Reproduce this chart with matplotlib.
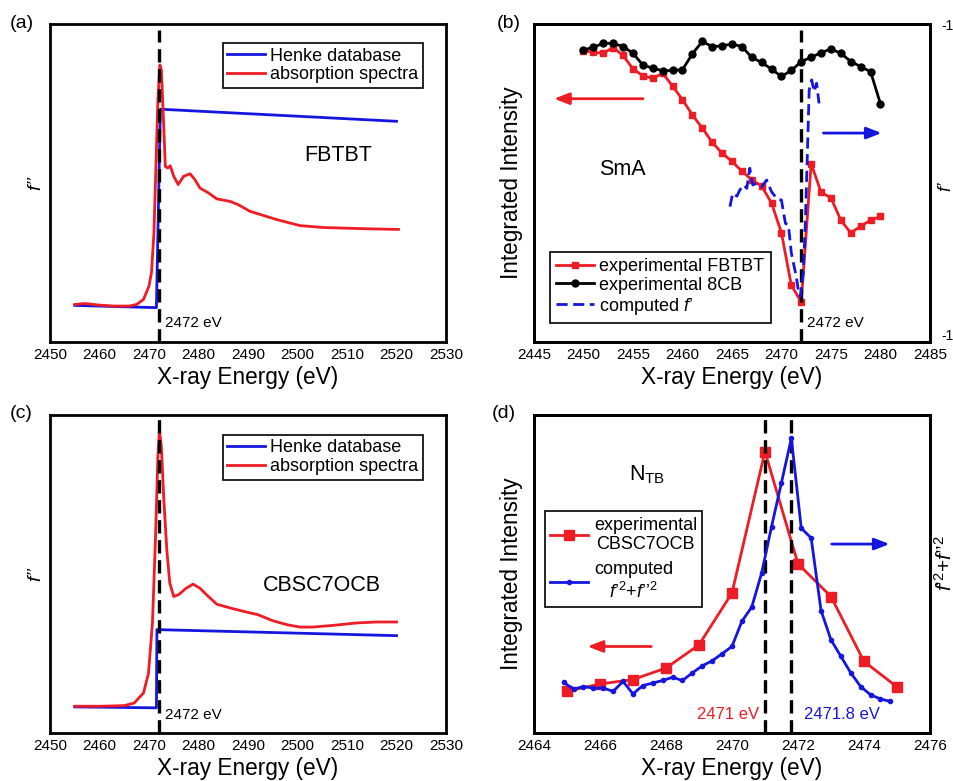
import numpy as np
import matplotlib
matplotlib.use('Agg')
import matplotlib.pyplot as plt

plt.rcParams['font.family'] = ['Liberation Sans', 'DejaVu Sans']
plt.rcParams['mathtext.fontset'] = 'custom'
plt.rcParams['mathtext.rm'] = 'Liberation Sans'
plt.rcParams['mathtext.it'] = 'Liberation Sans:italic'
plt.rcParams['axes.unicode_minus'] = False

RED = '#ee1c24'
BLUE = '#1515e0'

# ---- panel (a): FBTBT f'' (arbitrary units) ----
a_abs_x = [2455, 2457, 2460, 2463, 2466, 2467.5, 2468.9, 2470, 2470.5, 2471, 2471.4, 2471.8,
           2472.2, 2472.5, 2472.9, 2473.3, 2473.8, 2474.3, 2475, 2475.9, 2477, 2478.3, 2479.3,
           2480.3, 2482, 2483.7, 2486.4, 2488, 2490.4, 2495.8, 2500.5, 2505.2, 2514, 2520.4]
a_abs_y = [11.8, 12.1, 11.6, 11.3, 11.3, 11.8, 13.4, 17.6, 21.8, 34.3, 55.2, 76.2,
           87.1, 85.6, 70.9, 55.2, 54.7, 55.4, 52.1, 49.5, 52.1, 52.9, 51.0,
           48.4, 46.9, 45.0, 44.2, 43.2, 41.1, 38.5, 36.6, 36.0, 35.6, 35.4]
a_henke_x = [2455, 2471.5, 2472.3, 2520]
a_henke_y = [11.5, 10.8, 73.2, 69.4]

# ---- panel (b): SmA ----
b_x = list(range(2450, 2481))
b_fbtbt = [91.6, 91.1, 90.8, 92.6, 90.1, 85.9, 83.7, 82.9, 84.5, 80.5, 76.2, 71.4, 67.3, 62.8,
           59.4, 56.8, 53.7, 51.0, 49.0, 43.7, 34.3, 17.8, 12.6, 56.1, 47.1, 45.3, 38.3, 34.3,
           36.4, 38.3, 39.5]
b_8cb = [91.8, 92.7, 93.9, 93.9, 92.9, 90.8, 87.1, 86.1, 85.3, 85.4, 85.6, 90.6, 94.5, 92.9,
         93.1, 93.7, 92.9, 89.5, 87.9, 85.8, 83.5, 85.4, 88.2, 89.5, 91.0, 92.1, 90.8, 88.2,
         86.6, 85.0, 74.9]
b_fp_x = [2464.8, 2465.07, 2465.5, 2465.8, 2466.2, 2466.5, 2466.8, 2467.1, 2467.5, 2468.0,
          2468.5, 2469.0, 2469.5, 2470.0, 2470.4, 2470.7, 2471.0, 2471.5, 2471.7, 2471.9,
          2472.2, 2472.4, 2472.6, 2472.8, 2473.05, 2473.3, 2473.55, 2473.8]
b_fp_y = [-6.86, -6.43, -6.52, -6.32, -6.16, -6.27, -5.62, -6.16, -6.11, -6.22,
          -6.00, -6.38, -6.59, -6.65, -7.40, -7.45, -8.36, -9.12, -9.55, -9.76,
          -9.01, -7.51, -5.35, -3.10, -2.77, -3.15, -2.88, -3.53]

# ---- panel (c): CBSC7OCB f'' ----
c_abs_x = [2455, 2460, 2465, 2467, 2468.9, 2469.9, 2470.7, 2471.3, 2471.8, 2472.1, 2472.5,
           2473, 2473.6, 2474.2, 2475, 2476, 2477.5, 2478.9, 2480.3, 2482, 2483.7, 2486.4,
           2490, 2492, 2495, 2498, 2500.5, 2503, 2507, 2512, 2516, 2520]
c_abs_y = [8.4, 8.4, 8.6, 9.4, 12.6, 18.8, 34.6, 60.7, 86.9, 95.3, 90.1,
           73.3, 57.6, 47.1, 42.9, 43.5, 45.5, 46.8, 45.5, 42.9, 40.5, 39.3,
           37.9, 37.2, 35.3, 34.0, 33.3, 33.3, 33.8, 34.6, 34.9, 34.9]
c_henke_x = [2455, 2471.5, 2471.6, 2520]
c_henke_y = [8.2, 7.9, 32.5, 30.6]

# ---- panel (d): NTB ----
d_exp_x = list(range(2465, 2476))
d_exp_y = [13.1, 15.4, 16.8, 20.4, 27.7, 44.0, 88.5, 53.2, 42.9, 22.5, 14.5]
d_comp_x = [2464.9, 2465.2, 2465.5, 2465.8, 2466.1, 2466.4, 2466.7, 2467.0, 2467.3, 2467.6,
            2467.9, 2468.2, 2468.5, 2468.8, 2469.1, 2469.4, 2469.7, 2470.0, 2470.3, 2470.6,
            2470.9, 2471.2, 2471.5, 2471.8, 2472.1, 2472.4, 2472.7, 2473.0, 2473.3, 2473.6,
            2473.9, 2474.2, 2474.5, 2474.8]
d_comp_y = [15.9, 13.8, 14.6, 14.1, 14.1, 13.1, 16.2, 12.3, 14.9, 15.7,
            16.5, 17.5, 16.5, 18.9, 21.1, 22.7, 24.9, 27.2, 35.1, 39.6,
            50.3, 64.9, 78.7, 92.7, 64.4, 61.3, 38.5, 29.3, 24.1, 18.9,
            14.6, 12.0, 10.7, 9.9]

fig = plt.figure(figsize=(9.54, 7.81), dpi=100)
axa = fig.add_axes([0.0524, 0.5621, 0.4151, 0.4072])
axb = fig.add_axes([0.5597, 0.5621, 0.4151, 0.4072])
axc = fig.add_axes([0.0524, 0.0615, 0.4151, 0.4072])
axd = fig.add_axes([0.5597, 0.0615, 0.4151, 0.4072])

FSUM = r'$f’^{2}$+$f’’^{2}$'
DASH = (0, (4, 2))


def style(ax, xlim, step):
    ax.set_xlim(*xlim)
    ax.set_ylim(0, 100)
    ax.set_xticks(np.arange(xlim[0], xlim[1] + 0.1, step))
    ax.set_yticks([])
    ax.tick_params(axis='x', length=0, pad=4, labelsize=11)
    for s in ax.spines.values():
        s.set_linewidth(2)
    ax.set_xlabel('X-ray Energy (eV)', fontsize=16.3, labelpad=3)


def arrow(ax, x0, x1, y, color):
    ax.annotate('', xy=(x1, y), xytext=(x0, y),
                arrowprops=dict(arrowstyle='-|>,head_length=0.9,head_width=0.35',
                                color=color, lw=2))


leg_kw = dict(fontsize=13, frameon=True, fancybox=False, edgecolor='black',
              framealpha=1, borderaxespad=0, handletextpad=0.3, labelspacing=0.1,
              handlelength=2.1)

# (a)
axa.plot(a_henke_x, a_henke_y, color=BLUE, lw=2, label='Henke database')
axa.plot(a_abs_x, a_abs_y, color=RED, lw=2, label='absorption spectra')
axa.axvline(2472, color='black', ls=DASH, lw=2.4, ymax=0.98)
axa.text(2473.3, 6.1, '2472 eV', fontsize=11, va='center')
axa.text(2508.3, 58.7, 'FBTBT', fontsize=15.5, ha='center', va='center')
style(axa, (2450, 2530), 10)
axa.legend(loc='upper right', bbox_to_anchor=(0.942, 0.94),
           borderpad=0.25, **leg_kw).get_frame().set_linewidth(1.2)
axa.set_ylabel('f’’', fontsize=14, style='italic', labelpad=4)

# (c)
axc.plot(c_henke_x, c_henke_y, color=BLUE, lw=2, label='Henke database')
axc.plot(c_abs_x, c_abs_y, color=RED, lw=2, label='absorption spectra')
axc.axvline(2472, color='black', ls=DASH, lw=2.4)
axc.text(2473.3, 5.8, '2472 eV', fontsize=11, va='center')
axc.text(2505, 46.3, 'CBSC7OCB', fontsize=15.5, ha='center', va='center')
style(axc, (2450, 2530), 10)
axc.legend(loc='upper right', bbox_to_anchor=(0.942, 0.937),
           borderpad=0.25, **leg_kw).get_frame().set_linewidth(1.2)
axc.set_ylabel('f’’', fontsize=14, style='italic', labelpad=4)

# (b)
axb2 = axb.twinx()
hb1, = axb.plot(b_x, b_fbtbt, color=RED, lw=2, marker='s', ms=5, label='experimental FBTBT')
hb2, = axb.plot(b_x, b_8cb, color='black', lw=2, marker='o', ms=5, label='experimental 8CB')
hb3, = axb2.plot(b_fp_x, b_fp_y, color=BLUE, lw=2, ls=DASH, label=r'computed $f$’')
axb2.set_ylim(-11.226, -0.968)
axb2.set_yticks([-1, -11])
axb2.tick_params(axis='y', length=0, pad=8, labelsize=10)
axb.axvline(2472, color='black', ls=DASH, lw=2.4, ymax=0.98)
axb.text(2472.6, 6.1, '2472 eV', fontsize=11, va='center')
axb.text(2453.9, 54.2, 'SmA', fontsize=15.5, ha='center', va='center')
arrow(axb, 2456.3, 2446.75, 76.5, RED)
arrow(axb, 2473.96, 2480.4, 65.7, BLUE)
style(axb, (2445, 2485), 5)
for s in axb2.spines.values():
    s.set_linewidth(2)
axb.set_ylabel('Integrated Intensity', fontsize=16.3, labelpad=8)
axb.legend(handles=[hb1, hb2, hb3], loc='lower left', bbox_to_anchor=(0.04, 0.06),
           borderpad=0.35, **leg_kw).get_frame().set_linewidth(1.2)
axb.text(1.02, 0.49, 'f’', transform=axb.transAxes, fontsize=13, style='italic',
         rotation=90, ha='left', va='center')

# (d)
axd2 = axd.twinx()
hd1, = axd.plot(d_exp_x, d_exp_y, color=RED, lw=2, marker='s', ms=7,
                label='experimental\nCBSC7OCB')
hd2, = axd2.plot(d_comp_x, d_comp_y, color=BLUE, lw=2, marker='o', ms=3,
                 label='computed\n' + FSUM)
axd2.set_ylim(0, 100)
axd2.set_yticks([])
for s in axd2.spines.values():
    s.set_linewidth(2)
axd.axvline(2471, color='black', ls=DASH, lw=2.4)
axd.axvline(2471.8, color='black', ls=DASH, lw=2.4)
axd.text(2470.82, 5.8, '2471 eV', fontsize=12, color=RED, ha='right', va='center')
axd.text(2472.18, 5.8, '2471.8 eV', fontsize=12, color=BLUE, ha='left', va='center')
axd.text(2467.44, 81.2, r'N$_{\mathregular{TB}}$', fontsize=15.5, ha='center', va='center')
arrow(axd, 2467.64, 2465.54, 27.2, RED)
arrow(axd, 2472.94, 2474.86, 59.4, BLUE)
style(axd, (2464, 2476), 2)
axd.set_ylabel('Integrated Intensity', fontsize=16.3, labelpad=8)
legd = axd.legend(handles=[hd1, hd2], loc='lower left', bbox_to_anchor=(0.028, 0.396),
                  borderpad=0.3, **dict(leg_kw, labelspacing=0.45))
legd.get_frame().set_linewidth(1.2)
for t in legd.get_texts():
    t.set_multialignment('center')
axd.text(1.01, 0.535, FSUM, transform=axd.transAxes, fontsize=15,
         rotation=90, ha='left', va='center')

# panel letters
for lab, x, y in [('(a)', 10, 23), ('(b)', 497, 23), ('(c)', 10, 414), ('(d)', 492, 414)]:
    fig.text(x / 954, 1 - y / 781, lab, fontsize=14, ha='left', va='center')

fig.savefig('out.png', dpi=100)
